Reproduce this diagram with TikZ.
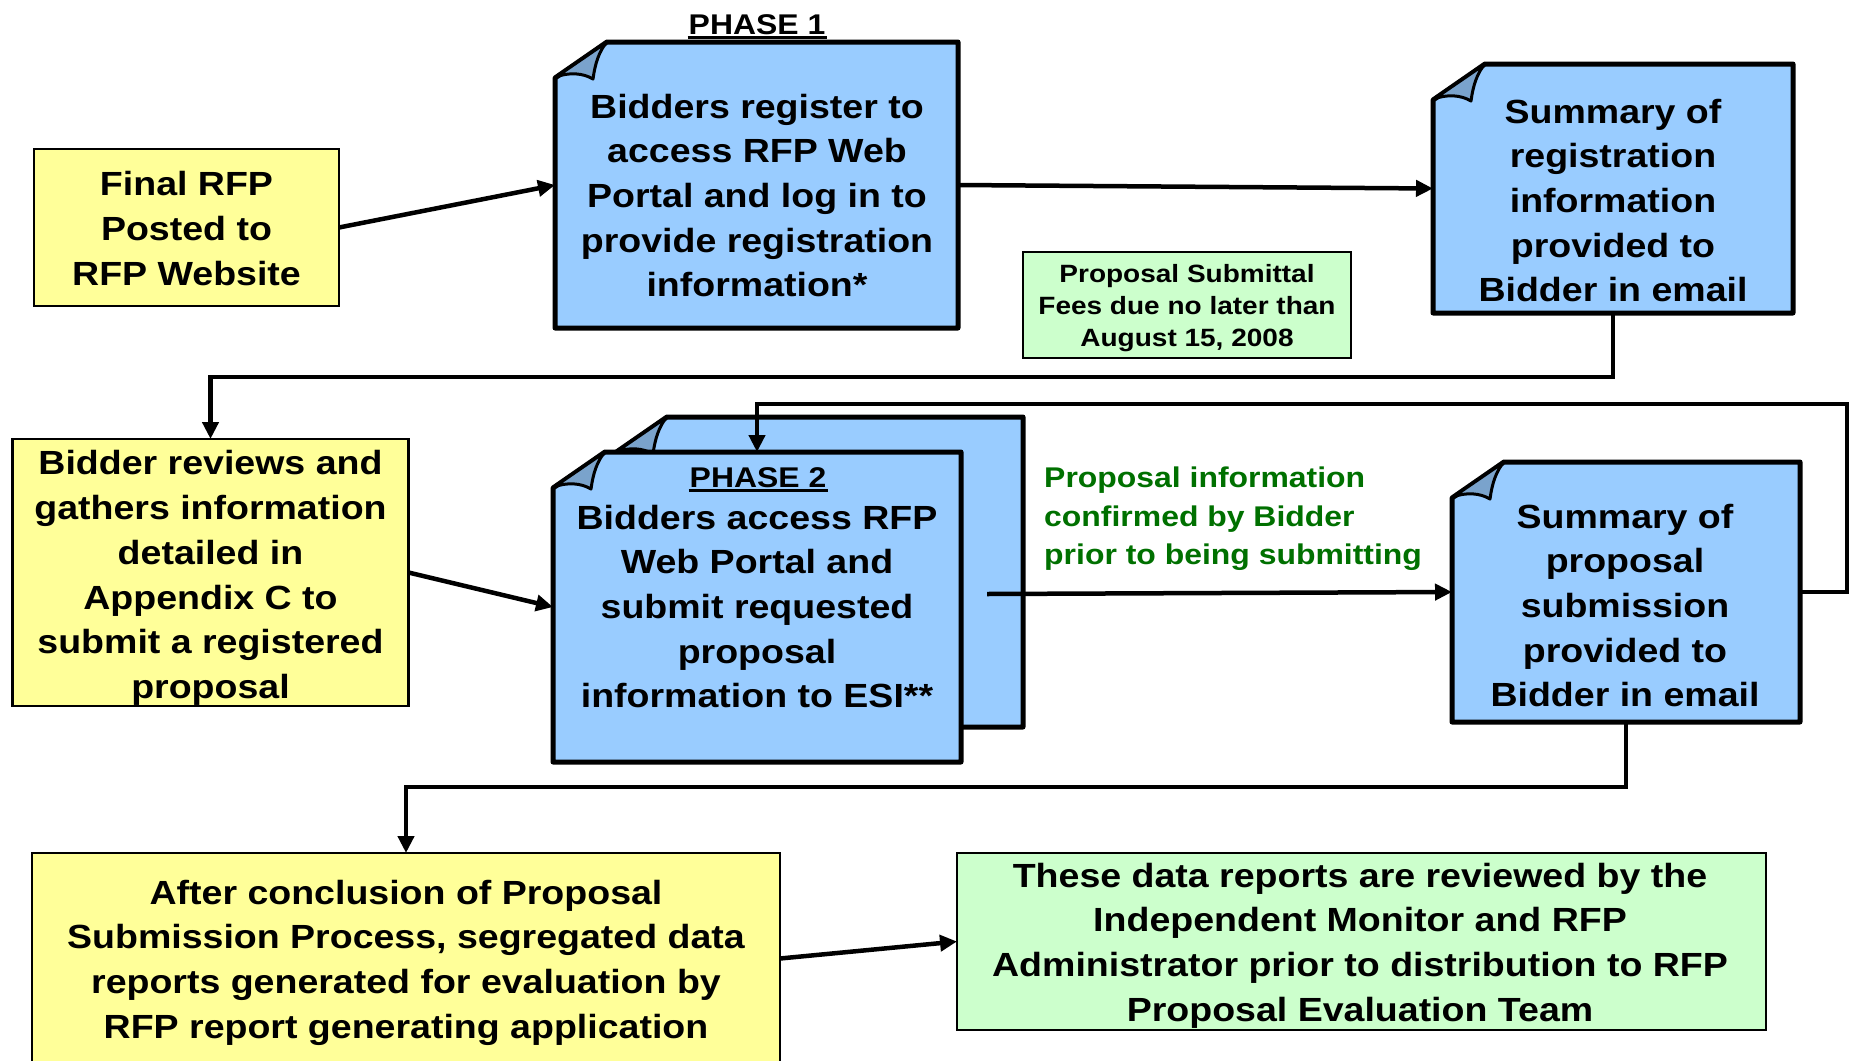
\documentclass[tikz,border=0pt]{standalone}
\usepackage{fontspec}
\setmainfont{Liberation Sans}[FakeStretch=1.12]
\usetikzlibrary{calc,arrows.meta}
\definecolor{boxblue}{RGB}{153,204,255}
\definecolor{flapblue}{RGB}{122,163,204}
\definecolor{boxyellow}{RGB}{255,255,153}
\definecolor{boxgreen}{RGB}{204,255,204}
\definecolor{notegreen}{RGB}{0,112,0}

\newcommand{\foldbox}[1]{%
  \path (#1.north west) coordinate (nw) (#1.south east) coordinate (se);
  \draw[blueline, fill=boxblue] ($(nw)+(0,36)$) -- ($(nw)+(52,0)$) -- (nw -| se) -- (se) -- (nw |- se) -- cycle;
  \draw[flapline, fill=flapblue] ($(nw)+(1,35)$) .. controls ($(nw)+(14,30)$) and ($(nw)+(28,31)$) .. ($(nw)+(38,37)$)
     .. controls ($(nw)+(40,22)$) and ($(nw)+(44,9)$) .. ($(nw)+(52,0)$) -- cycle;
}

\begin{document}
\begin{tikzpicture}[x=1pt,y=-1pt,
  shapebox/.style={rectangle, inner sep=0pt, outer sep=0pt},
  yellowbox/.style={shapebox, draw=black, line width=2.5pt, fill=boxyellow},
  greenbox/.style={shapebox, draw=black, line width=2.5pt, fill=boxgreen},
  feebox/.style={shapebox, draw=black, line width=2pt, fill=boxgreen},
  bluebox/.style={shapebox},
  blueline/.style={draw=black, line width=5pt, line join=round},
  flapline/.style={draw=black, line width=3pt, line join=round},
  boxtext/.style={align=center, inner sep=0pt, font=\fontsize{33.5}{44.7}\selectfont\bfseries},
  notetext/.style={align=center, inner sep=0pt, font=\fontsize{25}{31.9}\selectfont\bfseries},
  greentext/.style={align=left, inner sep=0pt, text=notegreen, font=\fontsize{28.5}{38.5}\selectfont\bfseries},
  phasetext/.style={inner sep=0pt, font=\fontsize{28.5}{34}\selectfont\bfseries},
  underl/.style={draw=black, line width=2.5pt},
  conn/.style={line width=4.5pt, draw=black},
  arr/.style={conn, -{Triangle[length=17pt,width=16pt]}},
]
\useasboundingbox (0,0) rectangle (1851,1060);
\clip (0,0) rectangle (1851,1060);

% box shapes
\node[yellowbox, minimum width=305pt, minimum height=157pt] (final) at (186.5,227.5) {};
\node[bluebox, minimum width=403pt, minimum height=286pt] (p1) at (756.5,185) {};
\node[bluebox, minimum width=360pt, minimum height=249pt] (sr) at (1613,188.5) {};
\node[feebox, minimum width=328pt, minimum height=106pt] (fee) at (1187,305) {};
\node[yellowbox, minimum width=396pt, minimum height=267pt] (br) at (210.5,572.5) {};
\node[bluebox, minimum width=408pt, minimum height=310pt] (p2back) at (819,572) {};
\node[bluebox, minimum width=408pt, minimum height=310pt] (p2) at (757,607) {};
\node[bluebox, minimum width=348pt, minimum height=260pt] (sp) at (1626,592) {};
\node[yellowbox, minimum width=748pt, minimum height=227pt] (ac) at (406,966.5) {};
\node[greenbox, minimum width=809pt, minimum height=177pt] (dr) at (1361.5,941.5) {};

\foldbox{p1}
\foldbox{sr}
\foldbox{p2back}
\foldbox{p2}
\foldbox{sp}

% texts
\node[boxtext] (final-t) at (186.5,228.5) {Final RFP\\Posted to\\RFP Website};
\node[phasetext, anchor=base] (ph1) at (757,34) {PHASE 1};
\draw[underl] ($(ph1.base west)+(-1,3.5)$) -- ($(ph1.base east)+(1,3.5)$);
\node[boxtext] (p1-t) at (757,195.5) {Bidders register to\\access RFP Web\\Portal and log in to\\provide registration\\information*};
\node[boxtext] (sr-t) at (1613,200.5) {Summary of\\registration\\information\\provided to\\Bidder in email};
\node[notetext] (fee-t) at (1187,308) {Proposal Submittal\\Fees due no later than\\August 15, 2008};
\node[boxtext] (br-t) at (210.5,578) {Bidder reviews and\\gathers information\\detailed in\\Appendix C to\\submit a registered\\proposal};
\node[phasetext, anchor=base] (ph2) at (758,487) {PHASE 2};
\draw[underl] ($(ph2.base west)+(-1,3.5)$) -- ($(ph2.base east)+(1,3.5)$);
\node[boxtext] (p2-t) at (757,606.5) {Bidders access RFP\\Web Portal and\\submit requested\\proposal\\information to ESI**};
\node[boxtext] (sp-t) at (1625,605.5) {Summary of\\proposal\\submission\\provided to\\Bidder in email};
\node[greentext, anchor=west] (note) at (1044,519) {Proposal information\\confirmed by Bidder\\prior to being submitting};
\node[boxtext] (ac-t) at (406,962.5) {After conclusion of Proposal\\Submission Process, segregated data\\reports generated for evaluation by\\RFP report generating application};
\node[boxtext] (dr-t) at (1360,945.5) {These data reports are reviewed by the\\Independent Monitor and RFP\\Administrator prior to distribution to RFP\\Proposal Evaluation Team};

% connectors
\coordinate (p2out) at (987,594);
\coordinate (loopc) at (1847,404);
\draw[arr] (final.east) -- (p1.west);
\draw[arr] (p1.east) -- (sr.west);
\draw[arr] (sr.south) -- ++(0,64) -| (br.north);
\draw[arr] (br.east) -- (p2.west);
\draw[arr] (p2out) -- (sp.west);
\draw[arr] (sp.east) -| (loopc) -| (p2.north);
\draw[arr] (sp.south) -- ++(0,65) -| (ac.north);
\draw[arr] ($(ac.east)+(0,-8)$) -- (dr.west);
\end{tikzpicture}
\end{document}
